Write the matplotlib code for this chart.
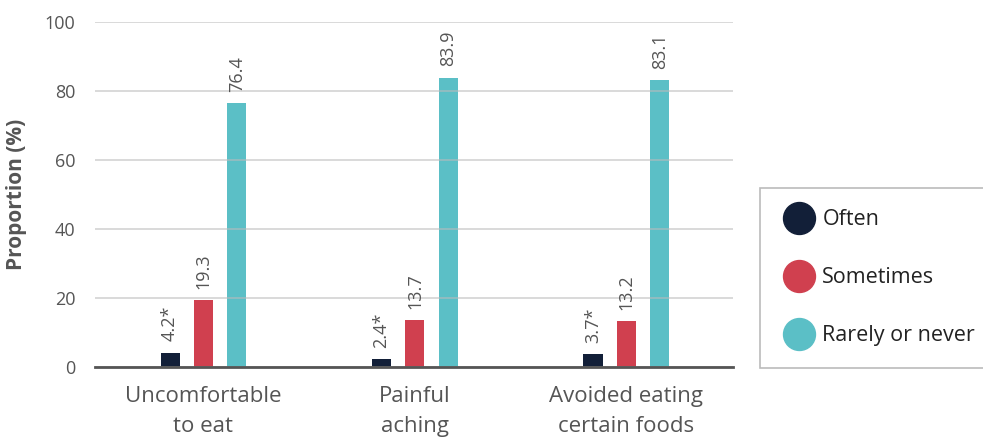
import numpy as np
import matplotlib.pyplot as plt
from matplotlib.lines import Line2D

categories = ["Uncomfortable\nto eat", "Painful\naching", "Avoided eating\ncertain foods"]
series = ["Often", "Sometimes", "Rarely or never"]
often = [4.2, 2.4, 3.7]
sometimes = [19.3, 13.7, 13.2]
rarely = [76.4, 83.9, 83.1]
often_labels = ["4.2*", "2.4*", "3.7*"]
sometimes_labels = ["19.3", "13.7", "13.2"]
rarely_labels = ["76.4", "83.9", "83.1"]
colors = ["#121f38", "#d0404f", "#5bbfc6"]

plt.rcParams["font.family"] = ["Open Sans", "DejaVu Sans"]

fig = plt.figure(figsize=(9.83, 4.41), dpi=100)
ax = fig.add_axes([95 / 983, 1 - 367 / 441, 638 / 983, 345 / 441])

x = np.arange(len(categories))
offset = 0.158
width = 0.09
values = [often, sometimes, rarely]
labels = [often_labels, sometimes_labels, rarely_labels]
for i, (vals, labs, col) in enumerate(zip(values, labels, colors)):
    pos = x + (i - 1) * offset
    ax.bar(pos, vals, width=width, color=col, zorder=2)
    for p, v, t in zip(pos, vals, labs):
        ax.annotate(t, (p, v), xytext=(0, 8), textcoords="offset points",
                    rotation=90, ha="center", va="bottom", fontsize=13,
                    color="#555555")

ax.set_xlim(-0.513, 2.504)
ax.set_ylim(0, 100)
ax.set_yticks([0, 20, 40, 60, 80, 100])
ax.set_xticks(x)
ax.set_xticklabels(categories, fontsize=16, color="#555555", linespacing=1.55)
ax.tick_params(axis="y", length=0, pad=14, labelsize=13, labelcolor="#555555")
ax.tick_params(axis="x", length=0, pad=14)
ax.grid(axis="y", color="#bbbbbb", alpha=0.6, linewidth=1.3, zorder=3)
ax.set_axisbelow(False)
for s in ["top", "right", "left"]:
    ax.spines[s].set_visible(False)
ax.spines["bottom"].set_color("#555555")
ax.spines["bottom"].set_linewidth(2)
ax.spines["bottom"].set_zorder(4)
ax.set_ylabel("Proportion (%)", fontsize=15, fontweight="bold", color="#555555", labelpad=13)

handles = [Line2D([], [], marker="o", linestyle="", markersize=23,
                  markerfacecolor=c, markeredgecolor=c) for c in colors]
leg = fig.legend(handles, series, loc="lower left", bbox_to_anchor=(760 / 983, 1 - 368 / 441),
                 frameon=True, fancybox=False, fontsize=15.5, labelspacing=1.72,
                 handlelength=1.6, handletextpad=0.3, borderpad=1.0, borderaxespad=0)
leg.get_frame().set_edgecolor("#aaaaaa")
leg.get_frame().set_linewidth(1.2)
for t in leg.get_texts():
    t.set_color("#222222")

fig.savefig("out.png", dpi=100)
